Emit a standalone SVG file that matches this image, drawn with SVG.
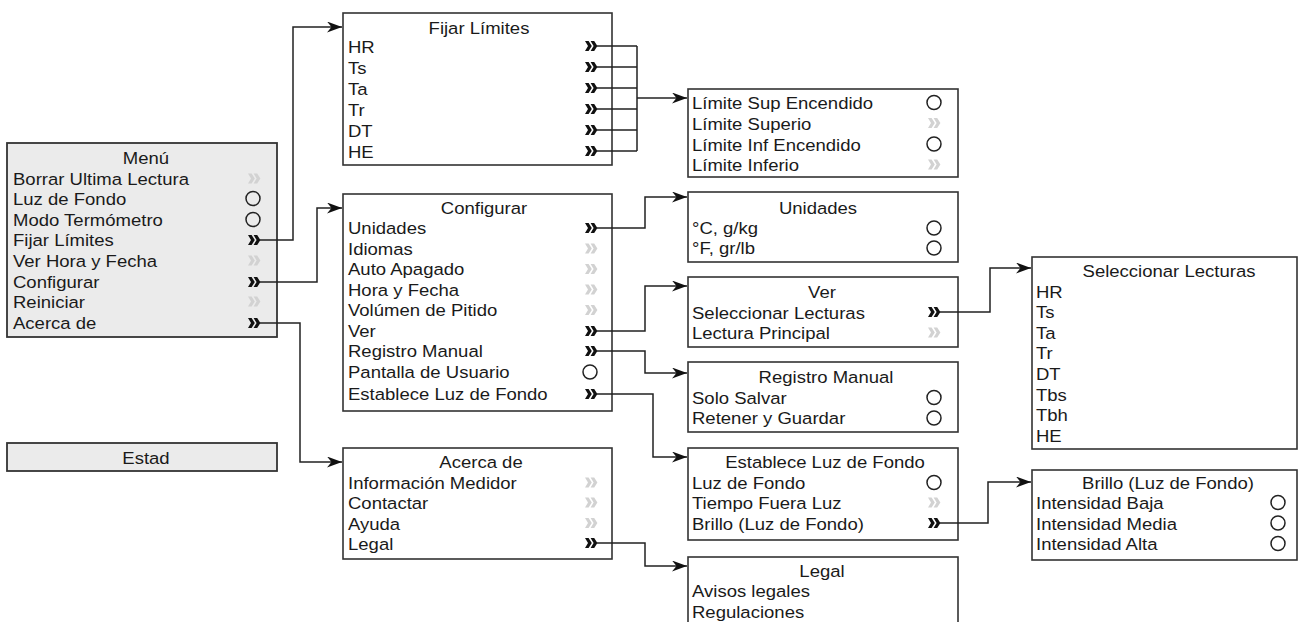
<svg xmlns="http://www.w3.org/2000/svg" xmlns:xlink="http://www.w3.org/1999/xlink" width="1300" height="622" viewBox="0 0 1300 622">
<style>
text{font-family:"Liberation Sans",Arial,Helvetica,sans-serif;font-size:17px;fill:#1a1a1a}
.c{text-anchor:middle}
.box{fill:#fff;stroke:#333;stroke-width:1.6}
.gbox{fill:#ebebeb;stroke:#333;stroke-width:1.8}
.cb{fill:#111}
.cg{fill:#d2d2d2}
.rad{fill:none;stroke:#222;stroke-width:1.5}
.ln{fill:none;stroke:#222;stroke-width:1.5}
.ar{fill:none;stroke:#222;stroke-width:1.5}
</style>
<defs>
<marker id="arr" markerUnits="userSpaceOnUse" markerWidth="15" markerHeight="11" viewBox="0 0 15 11" refX="15" refY="5.5" orient="auto">
<path d="M0,0 L15,5.5 L0,11 L4.5,5.5 Z" fill="#111" stroke="none"/>
</marker>
<path id="chev" d="M0,-5 L3.6,-5 L6.8,0 L3.6,5 L0,5 L3,0 Z M5.6,-5 L9.2,-5 L12.4,0 L9.2,5 L5.6,5 L8.6,0 Z"/>
</defs>
<rect width="1300" height="622" fill="#fff"/>

<g id="menu">
<rect class="gbox" x="7" y="143" width="270" height="194"/>
<text class="c" transform="translate(146,164) scale(1.09,1)">Menú</text>
<text transform="translate(13,185) scale(1.09,1)">Borrar Ultima Lectura</text>
<text transform="translate(13,205) scale(1.09,1)">Luz de Fondo</text>
<text transform="translate(13,226) scale(1.09,1)">Modo Termómetro</text>
<text transform="translate(13,246) scale(1.09,1)">Fijar Límites</text>
<text transform="translate(13,267) scale(1.09,1)">Ver Hora y Fecha</text>
<text transform="translate(13,288) scale(1.09,1)">Configurar</text>
<text transform="translate(13,308) scale(1.09,1)">Reiniciar</text>
<text transform="translate(13,329) scale(1.09,1)">Acerca de</text>
<use href="#chev" class="cg" x="248" y="178.5"/>
<circle class="rad" cx="253" cy="198.5" r="7"/>
<circle class="rad" cx="253" cy="219.5" r="7"/>
<use href="#chev" class="cb" x="248" y="240"/>
<use href="#chev" class="cg" x="248" y="260.5"/>
<use href="#chev" class="cb" x="248" y="282"/>
<use href="#chev" class="cg" x="248" y="301.5"/>
<use href="#chev" class="cb" x="248" y="323"/>
</g>

<g id="estad">
<rect class="gbox" x="7" y="443" width="270" height="28"/>
<text class="c" transform="translate(146,464) scale(1.09,1)">Estad</text>
</g>

<g id="fijar-limites">
<rect class="box" x="343" y="13" width="269" height="152"/>
<text class="c" transform="translate(479,34) scale(1.09,1)">Fijar Límites</text>
<text transform="translate(348,53) scale(1.09,1)">HR</text>
<text transform="translate(348,74) scale(1.09,1)">Ts</text>
<text transform="translate(348,95) scale(1.09,1)">Ta</text>
<text transform="translate(348,116) scale(1.09,1)">Tr</text>
<text transform="translate(348,137) scale(1.09,1)">DT</text>
<text transform="translate(348,158) scale(1.09,1)">HE</text>
<use href="#chev" class="cb" x="585" y="46"/>
<use href="#chev" class="cb" x="585" y="67"/>
<use href="#chev" class="cb" x="585" y="88"/>
<use href="#chev" class="cb" x="585" y="109"/>
<use href="#chev" class="cb" x="585" y="130"/>
<use href="#chev" class="cb" x="585" y="151"/>
</g>

<g id="limites">
<rect class="box" x="688" y="89" width="270" height="88"/>
<text transform="translate(692,109) scale(1.09,1)">Límite Sup Encendido</text>
<text transform="translate(692,130) scale(1.09,1)">Límite Superio</text>
<text transform="translate(692,151) scale(1.09,1)">Límite Inf Encendido</text>
<text transform="translate(692,171) scale(1.09,1)">Límite Inferio</text>
<circle class="rad" cx="934" cy="102.5" r="7"/>
<use href="#chev" class="cg" x="928" y="123"/>
<circle class="rad" cx="934" cy="144" r="7"/>
<use href="#chev" class="cg" x="928" y="164.5"/>
</g>

<g id="configurar">
<rect class="box" x="343" y="194" width="269" height="217"/>
<text class="c" transform="translate(484,214) scale(1.09,1)">Configurar</text>
<text transform="translate(348,234) scale(1.09,1)">Unidades</text>
<text transform="translate(348,255) scale(1.09,1)">Idiomas</text>
<text transform="translate(348,275) scale(1.09,1)">Auto Apagado</text>
<text transform="translate(348,296) scale(1.09,1)">Hora y Fecha</text>
<text transform="translate(348,316) scale(1.09,1)">Volúmen de Pitido</text>
<text transform="translate(348,337) scale(1.09,1)">Ver</text>
<text transform="translate(348,357) scale(1.09,1)">Registro Manual</text>
<text transform="translate(348,378) scale(1.09,1)">Pantalla de Usuario</text>
<text transform="translate(348,400) scale(1.09,1)">Establece Luz de Fondo</text>
<use href="#chev" class="cb" x="585" y="228"/>
<use href="#chev" class="cg" x="585" y="248.5"/>
<use href="#chev" class="cg" x="585" y="269"/>
<use href="#chev" class="cg" x="585" y="289.5"/>
<use href="#chev" class="cg" x="585" y="310"/>
<use href="#chev" class="cb" x="585" y="331"/>
<use href="#chev" class="cb" x="585" y="351"/>
<circle class="rad" cx="590" cy="372" r="7"/>
<use href="#chev" class="cb" x="585" y="394"/>
</g>

<g id="unidades">
<rect class="box" x="688" y="192" width="270" height="70"/>
<text class="c" transform="translate(818,214) scale(1.09,1)">Unidades</text>
<text transform="translate(692,234) scale(1.09,1)">°C, g/kg</text>
<text transform="translate(692,254) scale(1.09,1)">°F, gr/lb</text>
<circle class="rad" cx="934" cy="228" r="7"/>
<circle class="rad" cx="934" cy="248" r="7"/>
</g>

<g id="ver">
<rect class="box" x="688" y="277" width="270" height="70"/>
<text class="c" transform="translate(822,298) scale(1.09,1)">Ver</text>
<text transform="translate(692,319) scale(1.09,1)">Seleccionar Lecturas</text>
<text transform="translate(692,339) scale(1.09,1)">Lectura Principal</text>
<use href="#chev" class="cb" x="928" y="312"/>
<use href="#chev" class="cg" x="928" y="332.5"/>
</g>

<g id="registro-manual">
<rect class="box" x="688" y="362" width="270" height="70"/>
<text class="c" transform="translate(826,383) scale(1.09,1)">Registro Manual</text>
<text transform="translate(692,404) scale(1.09,1)">Solo Salvar</text>
<text transform="translate(692,424) scale(1.09,1)">Retener y Guardar</text>
<circle class="rad" cx="934" cy="397.5" r="7"/>
<circle class="rad" cx="934" cy="418" r="7"/>
</g>

<g id="establece-luz">
<rect class="box" x="688" y="448" width="270" height="92"/>
<text class="c" transform="translate(825,468) scale(1.09,1)">Establece Luz de Fondo</text>
<text transform="translate(692,489) scale(1.09,1)">Luz de Fondo</text>
<text transform="translate(692,509) scale(1.09,1)">Tiempo Fuera Luz</text>
<text transform="translate(692,530) scale(1.09,1)">Brillo (Luz de Fondo)</text>
<circle class="rad" cx="934" cy="482.5" r="7"/>
<use href="#chev" class="cg" x="928" y="502.5"/>
<use href="#chev" class="cb" x="928" y="523"/>
</g>

<g id="seleccionar-lecturas">
<rect class="box" x="1032" y="257" width="265" height="192"/>
<text class="c" transform="translate(1169,277) scale(1.09,1)">Seleccionar Lecturas</text>
<text transform="translate(1036,298) scale(1.09,1)">HR</text>
<text transform="translate(1036,318) scale(1.09,1)">Ts</text>
<text transform="translate(1036,339) scale(1.09,1)">Ta</text>
<text transform="translate(1036,359) scale(1.09,1)">Tr</text>
<text transform="translate(1036,380) scale(1.09,1)">DT</text>
<text transform="translate(1036,401) scale(1.09,1)">Tbs</text>
<text transform="translate(1036,421) scale(1.09,1)">Tbh</text>
<text transform="translate(1036,442) scale(1.09,1)">HE</text>
</g>

<g id="brillo">
<rect class="box" x="1032" y="470" width="265" height="90"/>
<text class="c" transform="translate(1168,489) scale(1.09,1)">Brillo (Luz de Fondo)</text>
<text transform="translate(1036,509) scale(1.09,1)">Intensidad Baja</text>
<text transform="translate(1036,530) scale(1.09,1)">Intensidad Media</text>
<text transform="translate(1036,550) scale(1.09,1)">Intensidad Alta</text>
<circle class="rad" cx="1278" cy="502.5" r="7"/>
<circle class="rad" cx="1278" cy="523" r="7"/>
<circle class="rad" cx="1278" cy="543.5" r="7"/>
</g>

<g id="acerca-de">
<rect class="box" x="343" y="448" width="269" height="111"/>
<text class="c" transform="translate(481,468) scale(1.09,1)">Acerca de</text>
<text transform="translate(348,489) scale(1.09,1)">Información Medidor</text>
<text transform="translate(348,509) scale(1.09,1)">Contactar</text>
<text transform="translate(348,530) scale(1.09,1)">Ayuda</text>
<text transform="translate(348,550) scale(1.09,1)">Legal</text>
<use href="#chev" class="cg" x="585" y="482.5"/>
<use href="#chev" class="cg" x="585" y="502.5"/>
<use href="#chev" class="cg" x="585" y="523"/>
<use href="#chev" class="cb" x="585" y="543"/>
</g>

<g id="legal">
<rect class="box" x="688" y="557" width="270" height="75"/>
<text class="c" transform="translate(822,577) scale(1.09,1)">Legal</text>
<text transform="translate(692,597) scale(1.09,1)">Avisos legales</text>
<text transform="translate(692,618) scale(1.09,1)">Regulaciones</text>
</g>

<g id="connectors">
<path class="ar" marker-end="url(#arr)" d="M260,240 H293 V27 H342"/>
<path class="ar" marker-end="url(#arr)" d="M260,282 H317 V208 H342"/>
<path class="ar" marker-end="url(#arr)" d="M260,323 H300 V462 H342"/>
<path class="ln" d="M597,46 H637 M597,67 H637 M597,88 H637 M597,109 H637 M597,130 H637 M597,151 H637 M637,46 V151"/>
<path class="ar" marker-end="url(#arr)" d="M637,98 H687"/>
<path class="ar" marker-end="url(#arr)" d="M597,228 H645 V197 H687"/>
<path class="ar" marker-end="url(#arr)" d="M597,331 H645 V286 H687"/>
<path class="ar" marker-end="url(#arr)" d="M597,351 H645 V373 H687"/>
<path class="ar" marker-end="url(#arr)" d="M597,394 H653 V457 H687"/>
<path class="ar" marker-end="url(#arr)" d="M940,312 H990 V268 H1031"/>
<path class="ar" marker-end="url(#arr)" d="M940,523 H988 V482 H1031"/>
<path class="ar" marker-end="url(#arr)" d="M597,543 H645 V566 H687"/>
</g>
</svg>
